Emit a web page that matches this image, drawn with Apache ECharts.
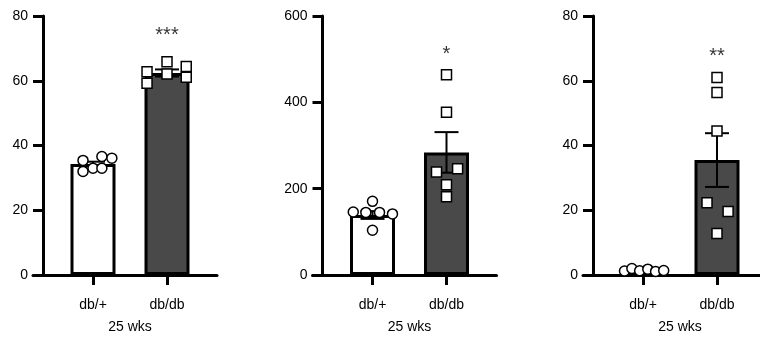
<!DOCTYPE html>
<html>
<head>
<meta charset="utf-8">
<script src="https://cdn.jsdelivr.net/npm/echarts@6/dist/echarts.min.js"></script>
<style>
  html, body { margin: 0; padding: 0; background: #fff; }
  #chart { width: 760px; height: 339px; }
</style>
</head>
<body>
<div id="chart"></div>
<script>
// ---- data ----
const categories = ['db/+', 'db/db'];
const xAxisTitle = '25 wks';

// Panel 1
const p1Means = [34.3, 62.4];
const p1Sem = [0.7, 1.1];
const p1WT = [35.4, 36.6, 36.1, 32.0, 33.0, 33.0];
const p1WTJitter = [-0.135, 0.12, 0.255, -0.135, 0, 0.12];
const p1DB = [62.8, 59.2, 65.9, 62.1, 64.4, 61.1];
const p1DBJitter = [-0.27, -0.27, 0, 0, 0.26, 0.26];
const p1Ticks = [0, 20, 40, 60, 80];
const p1Sig = '***';
const p1SigY = 74;

// Panel 2
const p2Means = [139, 284];
const p2Sem = [9, 47];
const p2WT = [146, 170.6, 145, 145, 141.5, 103.6];
const p2WTJitter = [-0.26, 0, -0.09, 0.095, 0.27, 0];
const p2DB = [464, 377, 238.6, 246, 209, 181];
const p2DBJitter = [0, 0, -0.135, 0.15, 0, 0];
const p2Ticks = [0, 200, 400, 600];
const p2Sig = '*';
const p2SigY = 512;

// Panel 3
const p3Means = [1.4, 35.5];
const p3Sem = [0.15, 8.3];
const p3WT = [1.2, 2.0, 1.3, 1.8, 1.1, 1.4];
const p3WTJitter = [-0.25, -0.15, -0.045, 0.065, 0.17, 0.28];
const p3DB = [61.0, 56.4, 44.5, 22.3, 19.6, 12.8];
const p3DBJitter = [0, 0, 0, -0.135, 0.15, 0];
const p3Ticks = [0, 20, 40, 60, 80];
const p3Sig = '**';
const p3SigY = 67.5;

// ---- layout / style ----
const FONT = 'Liberation Sans, Arial, Helvetica, sans-serif';
const BAR_DARK = '#494949';
const panels = [
  { x0: 43,    means: p1Means, sem: p1Sem, wt: p1WT, wtJ: p1WTJitter, db: p1DB, dbJ: p1DBJitter, ticks: p1Ticks, sig: p1Sig, sigY: p1SigY },
  { x0: 322.5, means: p2Means, sem: p2Sem, wt: p2WT, wtJ: p2WTJitter, db: p2DB, dbJ: p2DBJitter, ticks: p2Ticks, sig: p2Sig, sigY: p2SigY },
  { x0: 593,   means: p3Means, sem: p3Sem, wt: p3WT, wtJ: p3WTJitter, db: p3DB, dbJ: p3DBJitter, ticks: p3Ticks, sig: p3Sig, sigY: p3SigY }
];
const TOP = 16, HEIGHT = 259.5;

const grid = [], xAxis = [], yAxis = [], series = [];
panels.forEach((p, i) => {
  const gMain = grid.length;
  grid.push({ left: p.x0 + 13, top: TOP, width: 148, height: HEIGHT });
  const gBase = grid.length;
  grid.push({ left: p.x0 - 10, top: TOP, width: 184, height: HEIGHT });

  const xCat = xAxis.length;
  xAxis.push({
    type: 'category', gridIndex: gMain, data: categories, boundaryGap: true,
    axisLine: { show: false, onZero: false },
    axisTick: { show: true, alignWithLabel: true, length: 10, lineStyle: { color: '#000', width: 3 } },
    axisLabel: { color: '#000', fontSize: 14, fontFamily: FONT, margin: 23 },
    name: xAxisTitle, nameLocation: 'middle', nameGap: 45,
    nameTextStyle: { color: '#000', fontSize: 14, fontFamily: FONT }
  });
  const xVal = xAxis.length;
  xAxis.push({ type: 'value', gridIndex: gMain, min: -0.5, max: 1.5, show: false, axisLine: { onZero: false } });
  xAxis.push({
    type: 'value', gridIndex: gBase, min: 0, max: 1,
    axisLine: { show: true, onZero: false, lineStyle: { color: '#000', width: 3 } },
    axisTick: { show: false }, axisLabel: { show: false }, splitLine: { show: false }
  });

  const maxV = p.ticks[p.ticks.length - 1];
  const yMain = yAxis.length;
  yAxis.push({
    type: 'value', gridIndex: gMain, min: p.ticks[0], max: maxV,
    interval: p.ticks[1] - p.ticks[0], offset: 13,
    axisLine: { show: true, onZero: false, lineStyle: { color: '#000', width: 3 } },
    axisTick: { show: true, length: 10, lineStyle: { color: '#000', width: 3 } },
    axisLabel: { color: '#000', fontSize: 14, fontFamily: FONT, margin: 15 },
    splitLine: { show: false }
  });
  yAxis.push({ type: 'value', gridIndex: gBase, min: 0, max: 1, show: false, axisLine: { onZero: false } });

  series.push({
    type: 'bar', xAxisIndex: xCat, yAxisIndex: yMain, barWidth: 45, z: 2,
    itemStyle: { borderColor: '#000', borderWidth: 3 },
    data: p.means.map((m, k) => ({ value: m, itemStyle: { color: k === 0 ? '#ffffff' : BAR_DARK } })),
    silent: true
  });
  series.push({
    type: 'custom', xAxisIndex: xCat, yAxisIndex: yMain, z: 3,
    data: p.means.map((m, k) => [k, m, p.sem[k]]),
    renderItem: function (params, api) {
      const k = api.value(0), m = api.value(1), s = api.value(2);
      const top = api.coord([k, m + s]);
      const bot = api.coord([k, m - s]);
      const hw = 12;
      const st = { stroke: '#000', lineWidth: 2 };
      return {
        type: 'group',
        children: [
          { type: 'line', shape: { x1: top[0], y1: top[1], x2: bot[0], y2: bot[1] }, style: st },
          { type: 'line', shape: { x1: top[0] - hw, y1: top[1], x2: top[0] + hw, y2: top[1] }, style: st },
          { type: 'line', shape: { x1: bot[0] - hw, y1: bot[1], x2: bot[0] + hw, y2: bot[1] }, style: st }
        ]
      };
    },
    silent: true
  });
  series.push({
    type: 'scatter', xAxisIndex: xVal, yAxisIndex: yMain, z: 4,
    symbol: 'circle', symbolSize: 10,
    itemStyle: { color: '#fff', borderColor: '#000', borderWidth: 1.5, opacity: 1 },
    data: p.wt.map((v, k) => [0 + p.wtJ[k], v]), silent: true
  });
  series.push({
    type: 'scatter', xAxisIndex: xVal, yAxisIndex: yMain, z: 4,
    symbol: 'rect', symbolSize: 10,
    itemStyle: { color: '#fff', borderColor: '#000', borderWidth: 1.5, opacity: 1 },
    data: p.db.map((v, k) => [1 + p.dbJ[k], v]), silent: true
  });
  series.push({
    type: 'scatter', xAxisIndex: xVal, yAxisIndex: yMain, z: 5,
    symbolSize: 0,
    label: { show: true, position: 'inside', formatter: p.sig, color: '#000', fontSize: 20, fontFamily: FONT, textBorderWidth: 0 },
    data: [[1, p.sigY]], silent: true
  });
});

const chart = echarts.init(document.getElementById('chart'), null, { renderer: 'canvas' });
chart.setOption({
  animation: false,
  backgroundColor: '#fff',
  grid, xAxis, yAxis, series
});
</script>
</body>
</html>
